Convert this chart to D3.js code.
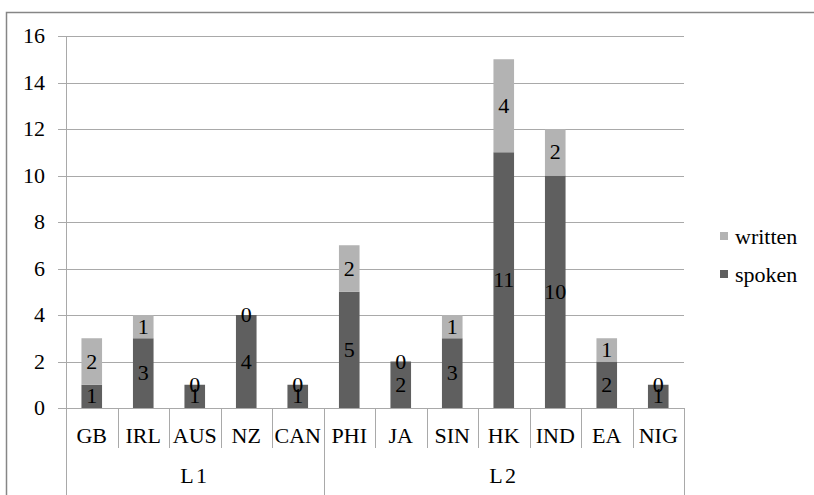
<!DOCTYPE html>
<html>
<head>
<meta charset="utf-8">
<script src="https://cdn.jsdelivr.net/npm/d3@7"></script>
<style>
  body { margin: 0; background: #fff; }
</style>
</head>
<body>
<script>
// values
const categories = ["GB", "IRL", "AUS", "NZ", "CAN", "PHI", "JA", "SIN", "HK", "IND", "EA", "NIG"];
const groups = [{ name: "L1", from: 0, to: 5 }, { name: "L2", from: 5, to: 12 }];
const spoken = [1, 3, 1, 4, 1, 5, 2, 3, 11, 10, 2, 1];
const written = [2, 1, 0, 0, 0, 2, 0, 1, 4, 2, 1, 0];
const yTicks = [0, 2, 4, 6, 8, 10, 12, 14, 16];
const seriesNames = ["spoken", "written"];
const colors = { spoken: "#5f5f5f", written: "#b3b3b3" };

const w = 814, h = 495;
const plotLeft = 66, plotRight = 684, plotTop = 36, plotBottom = 408;
const font = "'Liberation Serif', 'Times New Roman', serif";
const fontSize = "20px";
const stretch = 1.1; // the picture's text is a bit wider than tall

// puts text at (fx, fy) with a slight horizontal stretch
function place(sel, fx, fy) {
  sel.attr("x", 0).attr("y", 0)
    .attr("font-family", font)
    .attr("font-size", fontSize)
    .attr("fill", "#000")
    .attr("transform", (d, i) => "translate(" + fx(d, i) + "," + fy(d, i) + ") scale(" + stretch + ",1)");
}

const svg = d3.select("body").append("svg")
  .attr("width", w)
  .attr("height", h);

// outer chart border
svg.append("rect")
  .attr("x", 6.5).attr("y", 12.5)
  .attr("width", 840).attr("height", 520)
  .attr("fill", "none")
  .attr("stroke", "#868686")
  .attr("stroke-width", 1.5);

const y = d3.scaleLinear().domain([0, 16]).range([plotBottom, plotTop]);
const xCell = d3.scaleBand().domain(categories).range([plotLeft, plotRight]);
const x = d3.scaleBand().domain(categories).range([plotLeft, plotRight])
  .paddingInner(0.6).paddingOuter(0.3);

// gridlines and y ticks
svg.append("g")
  .selectAll("line")
  .data(yTicks)
  .enter()
  .append("line")
  .attr("x1", plotLeft - 8).attr("x2", plotRight)
  .attr("y1", d => Math.round(y(d)) + 0.5)
  .attr("y2", d => Math.round(y(d)) + 0.5)
  .attr("stroke", "#a9a9a9");

svg.append("g")
  .selectAll("text")
  .data(yTicks)
  .enter()
  .append("text")
  .attr("text-anchor", "end")
  .text(d => d)
  .call(place, () => 45, d => y(d) + 7);

// y axis line
svg.append("line")
  .attr("x1", plotLeft + 0.5).attr("x2", plotLeft + 0.5)
  .attr("y1", plotTop).attr("y2", 495)
  .attr("stroke", "#a9a9a9");

// stacked bars
const rows = categories.map((c, i) => ({ cat: c, spoken: spoken[i], written: written[i] }));
const stack = d3.stack().keys(seriesNames)(rows);

stack.forEach(layer => {
  const key = layer.key;
  svg.append("g")
    .selectAll("rect")
    .data(layer)
    .enter()
    .append("rect")
    .attr("x", d => x(d.data.cat))
    .attr("y", d => y(d[1]))
    .attr("width", x.bandwidth())
    .attr("height", d => y(d[0]) - y(d[1]))
    .attr("fill", colors[key]);
});

// data labels
stack.forEach(layer => {
  const key = layer.key;
  svg.append("g")
    .selectAll("text")
    .data(layer)
    .enter()
    .append("text")
    .attr("text-anchor", "middle")
    .text(d => d.data[key])
    .call(place, d => x(d.data.cat) + x.bandwidth() / 2, d => (y(d[0]) + y(d[1])) / 2 + 7);
});

// category axis: separators between categories
svg.append("g")
  .selectAll("line")
  .data(categories.slice(1))
  .enter()
  .append("line")
  .attr("x1", d => Math.round(xCell(d)) + 0.5)
  .attr("x2", d => Math.round(xCell(d)) + 0.5)
  .attr("y1", plotBottom).attr("y2", 448)
  .attr("stroke", "#a9a9a9");

svg.append("g")
  .selectAll("text")
  .data(categories)
  .enter()
  .append("text")
  .attr("text-anchor", "middle")
  .text(d => d)
  .call(place, d => xCell(d) + xCell.bandwidth() / 2, () => 443);

// group separators and labels
const groupEdges = [groups[0].to, groups[1].to];
svg.append("g")
  .selectAll("line")
  .data(groupEdges)
  .enter()
  .append("line")
  .attr("x1", d => Math.round(plotLeft + d * xCell.step()) + 0.5)
  .attr("x2", d => Math.round(plotLeft + d * xCell.step()) + 0.5)
  .attr("y1", plotBottom).attr("y2", 495)
  .attr("stroke", "#a9a9a9");

svg.append("g")
  .selectAll("text")
  .data(groups)
  .enter()
  .append("text")
  .attr("text-anchor", "middle")
  .attr("letter-spacing", "2px")
  .text(d => d.name)
  .call(place, d => plotLeft + (d.from + d.to) / 2 * xCell.step(), () => 483);

// legend
const legendItems = ["written", "spoken"];
const legend = svg.append("g")
  .selectAll("g")
  .data(legendItems)
  .enter()
  .append("g")
  .attr("transform", (d, i) => "translate(720," + (232 + i * 38) + ")");

legend.append("rect")
  .attr("width", 8).attr("height", 8)
  .attr("fill", d => colors[d]);

legend.append("text")
  .text(d => d)
  .call(place, () => 15, () => 12);
</script>
</body>
</html>
